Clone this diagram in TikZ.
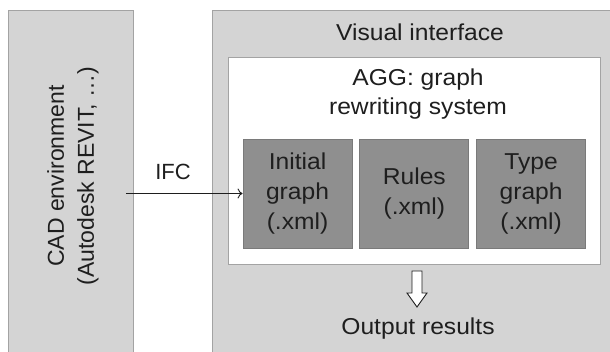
\documentclass[tikz,border=0pt]{standalone}
\usepackage{fontspec}
\setmainfont[FakeStretch=1.07]{Liberation Sans}
\newfontfamily\plainsans{Liberation Sans}
\usetikzlibrary{positioning,arrows.meta}
\definecolor{panelgray}{HTML}{D4D4D4}
\definecolor{panelline}{HTML}{A3A3A3}
\definecolor{filegray}{HTML}{8F8F8F}
\definecolor{fileline}{HTML}{7A7A7A}
\definecolor{inkgray}{HTML}{1E1E1E}
\tikzset{x=1pt, y=-1pt, every node/.style={text=inkgray, font=\fontsize{23}{29}\selectfont, align=center},
  panel/.style={draw=panelline, fill=panelgray, line width=0.8pt, inner sep=0pt},
  filebox/.style={draw=fileline, fill=filegray, line width=0.8pt, minimum width=109pt, minimum height=109pt, inner sep=0pt, font=\fontsize{23}{30}\selectfont}}

\begin{document}
\begin{tikzpicture}
  \useasboundingbox (0,0) rectangle (610,352);
  % outer panels
  \node[panel, minimum width=125pt, minimum height=352pt] (cad) at (71,186.5) {};
  \node[panel, minimum width=410pt, minimum height=352pt] (vis) at (417,186.5) {};
  \node[rotate=90, font=\plainsans\fontsize{23}{30}\selectfont] (cadtext) at (73,176) {CAD environment\\(Autodesk REVIT, …)};
  \node (vistext) at (420,32) {Visual interface};
  % graph rewriting system
  \node[draw=panelline, fill=white, line width=0.8pt, minimum width=372pt, minimum height=207pt] (agg) at (414,160.5) {};
  \node (aggtext) at (418,94) {AGG: graph\\rewriting system};
  \node[filebox] (init) at (297.5,193.5) {Initial\\graph\\(.xml)};
  \node[filebox, right=7pt of init] (rules) {Rules\\(.xml)};
  \node[filebox, right=7pt of rules] (type) {Type\\graph\\(.xml)};
  % exchange
  \coordinate (ifcstart) at ([xshift=-8pt]cad.east |- init);
  \draw[-{To[length=5pt, width=10pt]}, inkgray, line width=0.9pt] (ifcstart) -- (init.west);
  \node[font=\plainsans\fontsize{22}{28}\selectfont] (ifc) at (173,172) {IFC};
  % output
  \draw[inkgray, line width=0.9pt, fill=white] (412,271) -- (422,271) -- (422,293) -- (427,293) -- (417,307) -- (407,293) -- (412,293) -- cycle;
  \node (out) at (418,329) {Output results};
\end{tikzpicture}
\end{document}
